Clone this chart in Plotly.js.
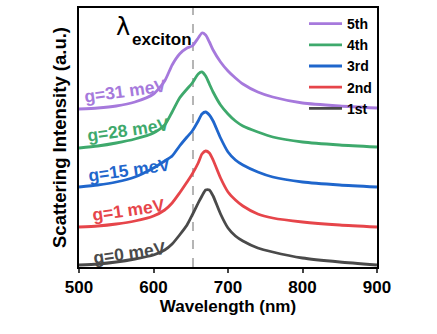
<!DOCTYPE html>
<html><head><meta charset="utf-8">
<script src="https://cdn.plot.ly/plotly-3.0.1.min.js"></script>
<style>html,body{margin:0;padding:0;background:#fff;}#chart{width:437px;height:334px;}</style>
</head><body><div id="chart"></div>
<script>
const wavelength = [500,525,550,575,600,615,625,635,645,652,660,665,670,675,680,690,700,710,720,740,760,800,850,900];
const s5th = [158,159,161,165,173,186,202,213,219,221,229,234,232,225,217,205,196,189,183,175,170,164,161,159];
const s4th = [119,121,124,128,134,142,155,169,178,184,193,195,191,183,175,162,153,146,141,135,130,125,122,120];
const s3rd = [80,82,85,90,99,106,111,121,130,136,146,153,155,152,146,129,115,107,102,95,90,85,82,80];
const s2nd = [40,41,43,46,51,57,64,74,85,93,104,113,116,114,107,89,75,67,61,53,49,45,42,40];
const s1st = [2,3,5,8,12,17,23,32,42,52,64,71,77,77,71,53,39,31,26,19,15,9,5,2];
const seriesNames = ['5th','4th','3rd','2nd','1st'];
const seriesData = [s5th,s4th,s3rd,s2nd,s1st];
const colors = ['#a679dc','#3ea96c','#1f66cc','#e6454a','#4a4a4a'];
const couplingLabels = ['g=31 meV','g=28 meV','g=15 meV','g=1 meV','g=0 meV'];
const labelPos = [[563,176],[566,137],[568,97],[567,57],[568,14]];
const excitonWavelength = 653;

const F = 'Liberation Sans, Arial, sans-serif';
const L=79, T=8, W=298, H=259;
const px = (x)=> (x-L)/W, py = (y)=> 1-(y-T)/H;

const traces = seriesNames.map((n,i)=>({
  x: wavelength, y: seriesData[i], name: n, type:'scatter', mode:'lines',
  line:{color:colors[i], width:2.8, shape:'spline', smoothing:0.6}
}));
const annotations = couplingLabels.map((t,i)=>({
  x: labelPos[i][0], y: labelPos[i][1], xref:'x', yref:'y', text:t, showarrow:false,
  textangle:-8, font:{family:F, size:17.5, color:colors[i], weight:'bold'}
}));
annotations.push({x:px(114), y:py(27), xref:'paper', yref:'paper', xanchor:'left', yanchor:'middle',
  text:'λ', showarrow:false, font:{family:'DejaVu Sans, sans-serif', size:24, color:'#000'}});
annotations.push({x:px(130), y:py(40), xref:'paper', yref:'paper', xanchor:'left', yanchor:'middle',
  text:'exciton', showarrow:false, font:{family:F, size:17, color:'#000', weight:'bold'}});

const layout = {
  width:437, height:334, margin:{l:79, r:60, t:8, b:67},
  paper_bgcolor:'#fff', plot_bgcolor:'#fff', showlegend:true,
  font:{family:F, color:'#000'},
  xaxis:{range:[500,900], tickvals:[500,600,700,800,900], ticks:'outside', ticklen:4, tickwidth:2,
    showline:true, linewidth:2, linecolor:'#000', mirror:true, showgrid:false, zeroline:false,
    tickfont:{family:F, size:17, weight:'bold'},
    title:{text:'Wavelength (nm)', font:{family:F, size:17, weight:'bold'}, standoff:1}},
  yaxis:{range:[0,259], showticklabels:false, ticks:'', showline:true, linewidth:2, linecolor:'#000', mirror:true,
    showgrid:false, zeroline:false,
    title:{text:'Scattering Intensity (a.u.)', font:{family:F, size:18.5, weight:'bold'}, standoff:6}},
  legend:{x:px(304), y:1.0, xanchor:'left', yanchor:'top', bgcolor:'rgba(0,0,0,0)', itemwidth:33,
    font:{family:F, size:14, weight:'bold', color:'#000'}},
  shapes:[{type:'line', xref:'x', yref:'paper', x0:excitonWavelength, x1:excitonWavelength, y0:0, y1:1,
    line:{color:'#b5b5b5', width:2, dash:'dash'}, layer:'below'}],
  annotations: annotations
};
Plotly.newPlot('chart', traces, layout, {displayModeBar:false, staticPlot:true});
</script></body></html>
